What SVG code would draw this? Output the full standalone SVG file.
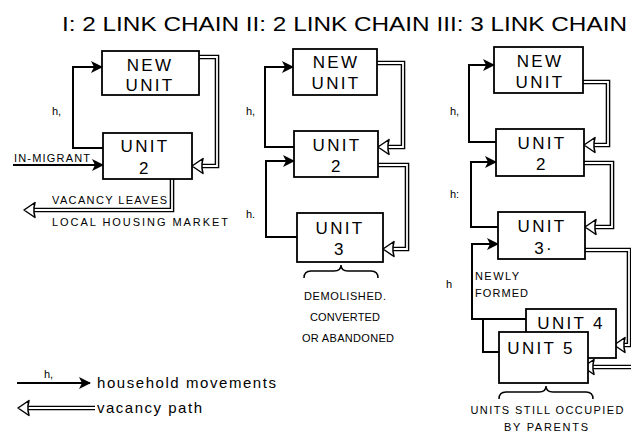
<svg xmlns="http://www.w3.org/2000/svg" width="631" height="433" viewBox="0 0 631 433">
<style>
.box{fill:#fff;stroke:#000;stroke-width:1.8}
.t{font-family:"Liberation Sans",Arial,sans-serif;font-size:17px;letter-spacing:2.3px;text-anchor:middle;fill:#000}
.s{font-family:"Liberation Sans",Arial,sans-serif;font-size:11px;fill:#000}
.sc{font-family:"Liberation Sans",Arial,sans-serif;font-size:11px;fill:#000;text-anchor:middle}
.h{stroke:#000;stroke-width:2;fill:none;marker-end:url(#arr)}
.hl{stroke:#000;stroke-width:2;fill:none}
.vo{stroke:#000;stroke-width:4.6;fill:none}
.vi{stroke:#fff;stroke-width:1.8;fill:none}
.br{stroke:#000;stroke-width:1.5;fill:none}
</style>
<defs>
<marker id="arr" viewBox="0 0 12 12" refX="11" refY="6" markerWidth="12" markerHeight="12" markerUnits="userSpaceOnUse" orient="auto">
<path d="M0,0 L12,6 L0,12 L3,6 Z" fill="#000"/>
</marker>
<path id="hollow" d="M0,0 L11,-7.5 L10,-2.5 L10,2.5 L11,7.5 Z" fill="#fff" stroke="#000" stroke-width="1.5" stroke-linejoin="round"/>
</defs>
<rect width="631" height="433" fill="#fff"/>
<text x="62" y="31" font-family="'Liberation Sans',Arial,sans-serif" font-size="21" textLength="565" lengthAdjust="spacingAndGlyphs">I: 2 LINK CHAIN II: 2 LINK CHAIN III: 3 LINK CHAIN</text>

<g id="connectors">
<path class="vo" d="M199,57 H217 V166 H202"/><path class="vi" d="M199,57 H217 V166 H202"/>
<path class="vo" d="M172,179 V210 H34"/><path class="vi" d="M172,177 V210 H34"/>
<path class="vo" d="M377,63 H403 V147 H388"/><path class="vi" d="M377,63 H403 V147 H388"/>
<path class="vo" d="M378,165 H407 V249 H393"/><path class="vi" d="M376,165 H407 V249 H393"/>
<path class="vo" d="M583,82 H608 V145 H594"/><path class="vi" d="M581,82 H608 V145 H594"/>
<path class="vo" d="M584,163 H612 V227 H595"/><path class="vi" d="M582,163 H612 V227 H595"/>
<path class="vo" d="M585,250 H629 V345 H624"/><path class="vi" d="M583,250 H629 V345 H624"/>
<path class="vo" d="M640,367 H593"/><path class="vi" d="M640,367 H593"/>
<path class="vo" d="M28,408 H95"/><path class="vi" d="M28,408 H95"/>
<use href="#hollow" x="192" y="166"/>
<use href="#hollow" x="24" y="210"/>
<use href="#hollow" x="378" y="147"/>
<use href="#hollow" x="383" y="249"/>
<use href="#hollow" x="584" y="145"/>
<use href="#hollow" x="585" y="227"/>
<use href="#hollow" x="614" y="345"/>
<use href="#hollow" x="583" y="367"/>
<use href="#hollow" x="18" y="408"/>
<path class="h" d="M103,148 H73 V67 H102"/>
<path class="h" d="M13,165 H103"/>
<path class="h" d="M294,147 H265 V67 H293"/>
<path class="h" d="M297,237 H266 V161 H294"/>
<path class="h" d="M496,142 H469 V65 H494"/>
<path class="h" d="M498,227 H471 V162 H496"/>
<path class="h" d="M526,319 H472 V244 H498"/>
<path class="hl" d="M483,319 V352 H499"/>
<path class="h" d="M17,383 H90"/>
</g>

<g id="n1-new"><rect class="box" x="102" y="51" width="97" height="44"/><text class="t" x="150" y="71">NEW</text><text class="t" x="150" y="91">UNIT</text></g>
<g id="n1-u2"><rect class="box" x="103" y="133" width="89" height="46"/><text class="t" x="145" y="152">UNIT</text><text class="t" x="145" y="174">2</text></g>

<g id="n2-new"><rect class="box" x="293" y="49" width="84" height="46"/><text class="t" x="336" y="68">NEW</text><text class="t" x="336" y="89">UNIT</text></g>
<g id="n2-u2"><rect class="box" x="294" y="131" width="84" height="46"/><text class="t" x="337" y="151">UNIT</text><text class="t" x="337" y="172">2</text></g>
<g id="n2-u3"><rect class="box" x="297" y="213" width="86" height="49"/><text class="t" x="340" y="234">UNIT</text><text class="t" x="340" y="255">3</text></g>

<g id="n3-new"><rect class="box" x="494" y="47" width="89" height="46"/><text class="t" x="540" y="67">NEW</text><text class="t" x="540" y="88">UNIT</text></g>
<g id="n3-u2"><rect class="box" x="496" y="129" width="88" height="47"/><text class="t" x="542" y="149">UNIT</text><text class="t" x="542" y="170">2</text></g>
<g id="n3-u3"><rect class="box" x="498" y="212" width="87" height="47"/><text class="t" x="542" y="232">UNIT</text><text class="t" x="544" y="254">3·</text></g>
<g id="n3-u4"><rect class="box" x="526" y="309" width="90" height="49"/><text class="t" x="571" y="329" letter-spacing="3">UNIT 4</text></g>
<g id="n3-u5"><rect class="box" x="499" y="332" width="89" height="51"/><text class="t" x="541" y="354" letter-spacing="3">UNIT 5</text></g>

<g id="labels">
<text class="s" x="52" y="115">h,</text>
<text class="s" x="14" y="162" textLength="76" lengthAdjust="spacing">IN-MIGRANT</text>
<text class="s" x="52" y="204" textLength="115" lengthAdjust="spacing">VACANCY LEAVES</text>
<text class="s" x="52" y="226" textLength="176" lengthAdjust="spacing">LOCAL HOUSING MARKET</text>
<text class="s" x="246" y="115">h,</text>
<text class="s" x="246" y="218">h.</text>
<path class="br" d="M304,278 Q304,271 311,271 L334,271 Q341,271 341,265 Q341,271 348,271 L371,271 Q378,271 378,278"/>
<text class="sc" x="345" y="300" textLength="82" lengthAdjust="spacing">DEMOLISHED.</text>
<text class="sc" x="345" y="321" textLength="70" lengthAdjust="spacing">CONVERTED</text>
<text class="sc" x="348" y="342" textLength="92" lengthAdjust="spacing">OR ABANDONED</text>
<text class="s" x="450" y="115">h,</text>
<text class="s" x="450" y="198">h:</text>
<text class="s" x="446" y="288">h</text>
<text class="s" x="475" y="280" textLength="44" lengthAdjust="spacing">NEWLY</text>
<text class="s" x="475" y="297" textLength="53" lengthAdjust="spacing">FORMED</text>
<path class="br" d="M499,399 Q499,392 506,392 L539,392 Q546,392 546,386 Q546,392 553,392 L586,392 Q593,392 593,399"/>
<text class="sc" x="547" y="414" textLength="153" lengthAdjust="spacing">UNITS STILL OCCUPIED</text>
<text class="sc" x="546" y="431" textLength="84" lengthAdjust="spacing">BY PARENTS</text>
<text class="s" x="44" y="378">h,</text>
<text x="97" y="388" font-family="'Liberation Sans',Arial,sans-serif" font-size="15" textLength="179" lengthAdjust="spacing">household movements</text>
<text x="97" y="413" font-family="'Liberation Sans',Arial,sans-serif" font-size="15" textLength="105" lengthAdjust="spacing">vacancy path</text>
</g>
</svg>
